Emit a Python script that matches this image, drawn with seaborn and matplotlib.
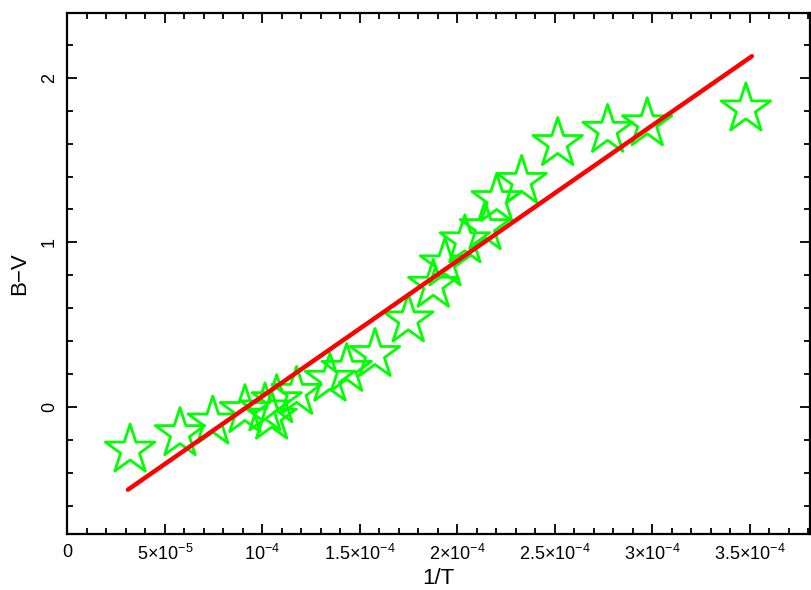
import matplotlib
matplotlib.use("Agg")
import matplotlib.pyplot as plt
import seaborn as sns
from matplotlib.ticker import MultipleLocator, FixedLocator, FixedFormatter

# observed points (1/T, B-V)
inv_T = [3.21e-5, 5.77e-5, 7.45e-5, 9.10e-5, 1.013e-4, 1.047e-4, 1.073e-4,
         1.175e-4, 1.346e-4, 1.432e-4, 1.577e-4, 1.748e-4, 1.876e-4, 1.936e-4,
         2.038e-4, 2.141e-4, 2.201e-4, 2.329e-4, 2.514e-4, 2.770e-4, 2.973e-4,
         3.479e-4]
b_v = [-0.26, -0.16, -0.09, -0.02, -0.01, -0.06, 0.04,
       0.09, 0.17, 0.23, 0.32, 0.53, 0.74, 0.87,
       1.01, 1.09, 1.26, 1.37, 1.60, 1.68, 1.72,
       1.81]

# linear fit line end points
fit_x = [3.1e-5, 3.51e-4]
fit_y = [-0.50, 2.13]

x_ticks = [0, 5e-5, 1e-4, 1.5e-4, 2e-4, 2.5e-4, 3e-4, 3.5e-4]
x_labels = ["0", r"$5{\times}10^{-5}$", r"$10^{-4}$", r"$1.5{\times}10^{-4}$",
            r"$2{\times}10^{-4}$", r"$2.5{\times}10^{-4}$", r"$3{\times}10^{-4}$",
            r"$3.5{\times}10^{-4}$"]
y_ticks = [0, 1, 2]
y_labels = ["0", "1", "2"]

sns.set_theme(style="white")
plt.rcParams["font.family"] = ["Liberation Sans", "DejaVu Sans"]
plt.rcParams["mathtext.fontset"] = "custom"
plt.rcParams["mathtext.rm"] = "Liberation Sans"
plt.rcParams["mathtext.it"] = "Liberation Sans:italic"
plt.rcParams["axes.unicode_minus"] = True

fig = plt.figure(figsize=(8.11, 5.90), dpi=100)
ax = fig.add_axes([0.0832, 0.0949, 0.9156, 0.8836])

sns.scatterplot(x=inv_T, y=b_v, marker="*", s=1400, ax=ax,
                color="#00ff00", linewidth=2.0, zorder=2)
pts = ax.collections[0]
pts.set_facecolor("none")
pts.set_edgecolor("#00ff00")

sns.lineplot(x=fit_x, y=fit_y, color="#ff0000", linewidth=3.2, ax=ax, zorder=3)

ax.set_xlim(0, 3.808e-4)
ax.set_ylim(-0.769, 2.394)

ax.xaxis.set_major_locator(FixedLocator(x_ticks))
ax.xaxis.set_major_formatter(FixedFormatter(x_labels))
ax.xaxis.set_minor_locator(MultipleLocator(1e-5))
ax.yaxis.set_major_locator(FixedLocator(y_ticks))
ax.yaxis.set_major_formatter(FixedFormatter(y_labels))
ax.yaxis.set_minor_locator(MultipleLocator(0.2))

ax.tick_params(which="both", direction="in", top=True, right=True,
               bottom=True, left=True, color="black", width=1.3,
               labelcolor="black")
ax.tick_params(which="major", length=7, labelsize=13, pad=7)
ax.tick_params(which="minor", length=4)
for lab in ax.get_yticklabels():
    lab.set_rotation(90)
    lab.set_va("center")

for sp in ax.spines.values():
    sp.set_color("black")
    sp.set_linewidth(1.6)

ax.set_xlabel("1/T", fontsize=16, labelpad=3, color="black")
ax.set_ylabel("B\u2212V", fontsize=16, labelpad=8, color="black")

fig.savefig("out.png", dpi=100)
